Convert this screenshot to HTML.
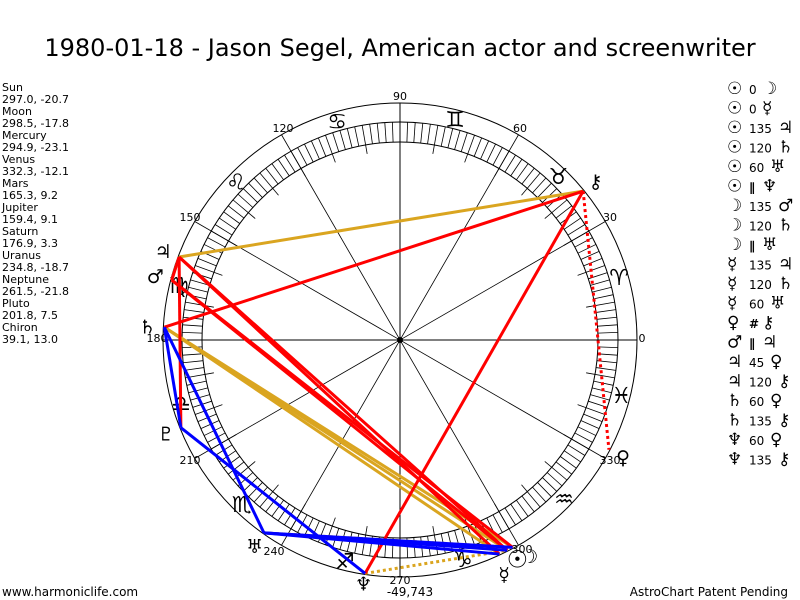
<!DOCTYPE html>
<html><head><meta charset="utf-8"><style>
body{margin:0;background:#fff;width:800px;height:600px;overflow:hidden;font-family:"Liberation Sans","DejaVu Sans",sans-serif}
svg{position:absolute;left:0;top:0}
</style></head><body>
<svg id="s" width="800" height="600" xmlns="http://www.w3.org/2000/svg">
<text x="400" y="56" font-size="24" text-anchor="middle" font-family="DejaVu Sans, sans-serif">1980-01-18 - Jason Segel, American actor and screenwriter</text>
<g font-size="11" font-family="DejaVu Sans, sans-serif">
<text x="2" y="91">Sun</text><text x="2" y="103">297.0, -20.7</text>
<text x="2" y="115">Moon</text><text x="2" y="127">298.5, -17.8</text>
<text x="2" y="139">Mercury</text><text x="2" y="151">294.9, -23.1</text>
<text x="2" y="163">Venus</text><text x="2" y="175">332.3, -12.1</text>
<text x="2" y="187">Mars</text><text x="2" y="199">165.3, 9.2</text>
<text x="2" y="211">Jupiter</text><text x="2" y="223">159.4, 9.1</text>
<text x="2" y="235">Saturn</text><text x="2" y="247">176.9, 3.3</text>
<text x="2" y="259">Uranus</text><text x="2" y="271">234.8, -18.7</text>
<text x="2" y="283">Neptune</text><text x="2" y="295">261.5, -21.8</text>
<text x="2" y="307">Pluto</text><text x="2" y="319">201.8, 7.5</text>
<text x="2" y="331">Chiron</text><text x="2" y="343">39.1, 13.0</text>
<text x="2" y="596" font-size="12">www.harmoniclife.com</text>
<text x="788" y="596" font-size="12" text-anchor="end">AstroChart Patent Pending</text>
</g>
<g id="g"></g>
</svg>
<script>
var g=document.getElementById('g'),NS='http://www.w3.org/2000/svg',cx=400,cy=340,R=237;
function el(t,a,txt){var e=document.createElementNS(NS,t);for(var k in a)e.setAttribute(k,a[k]);if(txt)e.textContent=txt;g.appendChild(e);return e;}
function P(a,r){var t=a*Math.PI/180;return [cx+r*Math.cos(t),cy-r*Math.sin(t)];}
el('circle',{cx:cx,cy:cy,r:R,fill:'none',stroke:'#000','stroke-width':1});
el('circle',{cx:cx,cy:cy,r:218,fill:'none',stroke:'#000','stroke-width':1});
el('circle',{cx:cx,cy:cy,r:198,fill:'none',stroke:'#000','stroke-width':1});
for(var a=0;a<360;a+=2){var r0=(a%10==0)?189:198,p=P(a,r0),q=P(a,218);el('line',{x1:p[0],y1:p[1],x2:q[0],y2:q[1],stroke:'#000','stroke-width':0.8});}
for(var a=0;a<180;a+=30){var p=P(a,R),q=P(a+180,R);el('line',{x1:p[0],y1:p[1],x2:q[0],y2:q[1],stroke:'#000','stroke-width':(a%90==0)?1:0.8});}
el('circle',{cx:cx,cy:cy,r:3,fill:'#000'});
var labs=[[0,642,342],[30,610,221],[60,520,132],[90,400,100],[120,283,132],[150,190,221],[180,157,342],[210,190,464],[240,274,555],[270,400,584],[300,522,553],[330,610,464]];
labs.forEach(function(l){el('text',{x:l[1],y:l[2],'font-size':11,'text-anchor':'middle','font-family':'DejaVu Sans'},String(l[0]));});
el('text',{x:410,y:596,'font-size':12,'text-anchor':'middle','font-family':'DejaVu Sans'},'-49,743');
var zod=['♈','♉','♊','♋','♌','♍','♎','♏','♐','♑','♒','♓'];
zod.forEach(function(z,i){var p=P(16+30*i,228);el('text',{x:p[0],y:p[1]+8,'font-size':22,'text-anchor':'middle','font-family':'DejaVu Sans'},z+'\uFE0E');});
var pl={Su:297,Mo:298.5,Me:294.9,Ve:332.3,Ma:165.3,Ju:159.4,Sa:176.9,Ur:234.8,Ne:261.5,Pl:201.8,Ch:39.1};
function L(a,b,c,w,d){var p=P(pl[a],236),q=P(pl[b],236);var o={x1:p[0],y1:p[1],x2:q[0],y2:q[1],stroke:c,'stroke-width':w||3};if(d)o['stroke-dasharray']=d;el('line',o);}
var G='#daa520',Rr='#ff0000',B='#0000ff';
L('Ju','Ch',G);L('Sa','Su',G);L('Sa','Mo',G);L('Sa','Me',G);L('Ju','Ma',G);
L('Ur','Mo',G,3,'3,3');L('Ne','Su',G,3,'3,3');
L('Sa','Ch',Rr);L('Ju','Su',Rr);L('Ju','Me',Rr);L('Ma','Mo',Rr);L('Ju','Pl',Rr);L('Ju','Ma',Rr);L('Ne','Ch',Rr);L('Ch','Ve',Rr,3,'3,3');L('Ma','Su',Rr);
L('Sa','Ur',B);L('Pl','Ne',B);L('Ur','Su',B);L('Ur','Mo',B);L('Ur','Me',B);L('Pl','Sa',B);
var gl=[['♃',159.4,253],['♂',165.3,253],['♄',176.9,253],['♇',201.8,252],['♅',234.8,252],['♆',261.5,246],['☉',298,250],['☽',301,252],['☿',294,256],['♀',332.3,252],['⚷',39.1,252]];
gl.forEach(function(x){var p=P(x[1],x[2]);el('text',{x:p[0],y:p[1]+7,'font-size':x[0]=='☉'?24:19,'text-anchor':'middle','font-family':'DejaVu Sans'},x[0]+'\uFE0E');});
var asp=[['☉','0','☽'],['☉','0','☿'],['☉','135','♃'],['☉','120','♄'],['☉','60','♅'],['☉','∥','♆'],['☽','135','♂'],['☽','120','♄'],['☽','∥','♅'],['☿','135','♃'],['☿','120','♄'],['☿','60','♅'],['♀','#','⚷'],['♂','∥','♃'],['♃','45','♀'],['♃','120','⚷'],['♄','60','♀'],['♄','135','⚷'],['♆','60','♀'],['♆','135','⚷']];
asp.forEach(function(a,i){var y=94+i*19.5;el('text',{x:727,y:y,'font-size':17,'font-family':'DejaVu Sans'},a[0]+'\uFE0E');
el('text',{x:749,y:y,'font-size':12,'font-family':'DejaVu Sans','font-weight':(a[1]=='∥'||a[1]=='#')?'bold':'normal'},a[1]);
el('text',{x:749+(a[1].length*8)+5,y:y,'font-size':17,'font-family':'DejaVu Sans'},a[2]+'\uFE0E');});
</script>
</body></html>
